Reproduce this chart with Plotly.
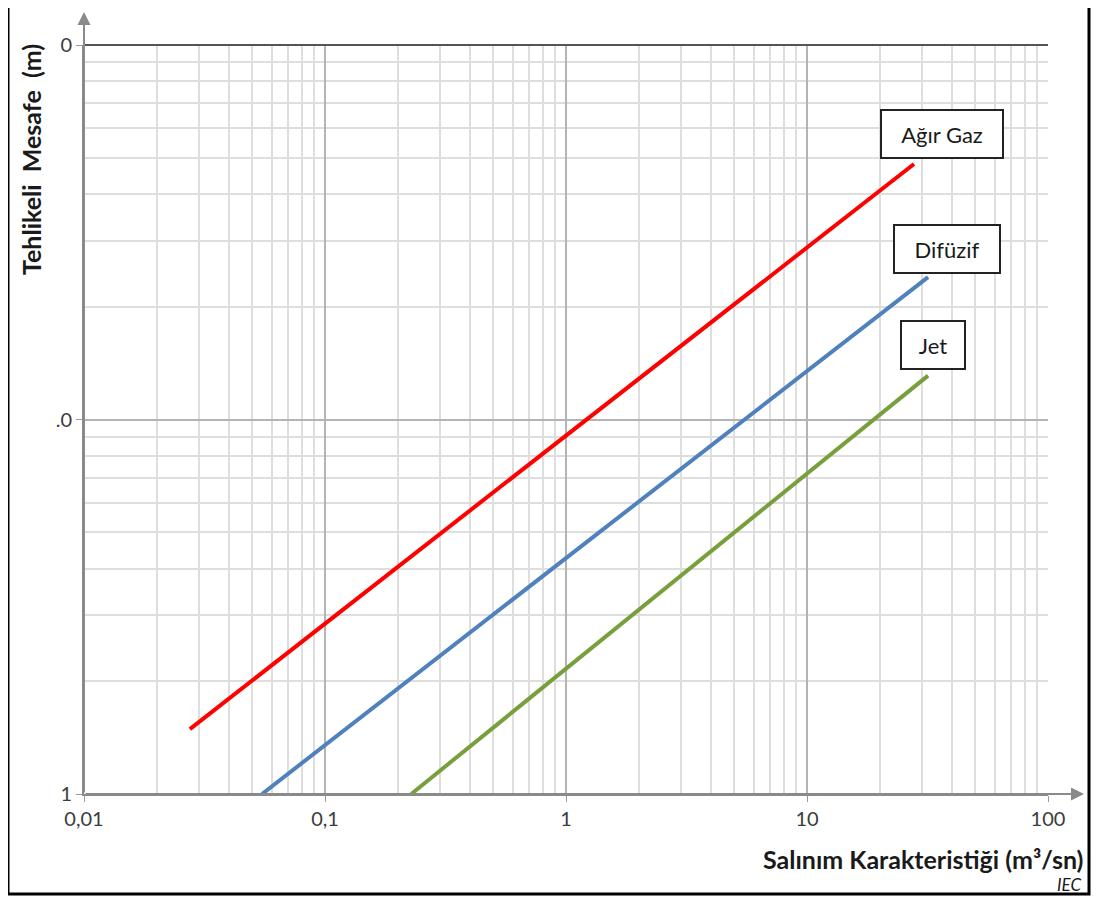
import plotly.graph_objects as go

# ---- data ----
series_names = ["Ağır Gaz", "Difüzif", "Jet"]
agir_gaz_x = [0.0275, 27.8]
agir_gaz_y = [1.49, 48.1]
difuzif_x = [0.0548, 31.8]
difuzif_y = [1.0, 24.0]
jet_x = [0.228, 31.8]
jet_y = [1.0, 13.1]

x_tick_vals = [0.01, 0.1, 1, 10, 100]
x_tick_text = ["0,01", "0,1", "1", "10", "100"]
y_tick_vals = [1, 10, 100]
y_tick_text = ["1", ".0", "0"]

colors = ["#ff0000", "#4f81bd", "#77a03c"]

# minor grid values
x_minor = [m * 10 ** e for e in range(-2, 2) for m in range(2, 10)]
y_minor = [m * 10 ** e for e in range(0, 2) for m in range(2, 10)]

# ---- layout geometry (window pixels; page body has an 8px offset) ----
OFF = 8
W, H = 1099 - 2 * OFF, 904 - 2 * OFF
L, R, T, B = 84, 1048, 45, 794
PW, PH = R - L, B - T


def px(x):
    return (x - L) / PW


def py(y):
    return (B - y) / PH


FONT = "Lato, Open Sans, sans-serif"

fig = go.Figure()
for xs, ys, c, n in zip([agir_gaz_x, difuzif_x, jet_x],
                        [agir_gaz_y, difuzif_y, jet_y], colors, series_names):
    fig.add_trace(go.Scatter(x=xs, y=ys, mode="lines", name=n,
                             line=dict(color=c, width=4), showlegend=False))

tickfont = dict(family=FONT, size=20, color="#3c3c3c")

fig.update_xaxes(type="log", range=[-2, 2], tickvals=x_tick_vals, ticktext=x_tick_text,
                 showgrid=True, gridcolor="#b4b4b4", gridwidth=2,
                 minor=dict(tickvals=x_minor, showgrid=True, gridcolor="#dedede", gridwidth=2),
                 ticks="outside", ticklen=6, tickcolor="#9a9a9a", tickwidth=1,
                 showline=True, linecolor="#8a8a8a", linewidth=2,
                 zeroline=False, tickfont=tickfont)
fig.update_yaxes(type="log", range=[0, 2], tickvals=y_tick_vals, ticktext=y_tick_text,
                 showgrid=True, gridcolor="#b4b4b4", gridwidth=2,
                 minor=dict(tickvals=y_minor, showgrid=True, gridcolor="#dedede", gridwidth=2),
                 ticks="outside", ticklen=6, tickcolor="#9a9a9a", tickwidth=1,
                 showline=True, linecolor="#8a8a8a", linewidth=2,
                 zeroline=False, tickfont=tickfont)

shapes = [
    dict(type="line", xref="paper", yref="paper", x0=0, x1=1, y0=1, y1=1,
         line=dict(color="#555555", width=2)),
    dict(type="rect", xref="paper", yref="paper",
         x0=px(8), x1=px(1089), y0=py(2), y1=py(894),
         line=dict(color="black", width=3)),
]

annotations = [
    dict(xref="paper", yref="paper", x=0, y=py(12), ax=0, ay=782, axref="pixel", ayref="pixel",
         showarrow=True, arrowhead=2, arrowsize=1.3, arrowwidth=2, arrowcolor="#8a8a8a", text=""),
    dict(xref="paper", yref="paper", x=px(1084), y=0, ax=-1000, ay=0,
         showarrow=True, arrowhead=2, arrowsize=1.3, arrowwidth=2, arrowcolor="#8a8a8a", text=""),
    dict(xref="paper", yref="paper", x=px(31), y=py(160), text="<b>Tehlikeli  Mesafe  (m)</b>",
         textangle=-90, showarrow=False, xanchor="center", yanchor="middle",
         font=dict(family=FONT, size=25, color="#1a1a1a")),
    dict(xref="paper", yref="paper", x=px(1085), y=py(859), text="<b>Salınım Karakteristiği (m³/sn)</b>",
         showarrow=False, xanchor="right", yanchor="middle",
         font=dict(family=FONT, size=25, color="#1a1a1a")),
    dict(xref="paper", yref="paper", x=px(1083), y=py(885), text="<i>IEC</i>",
         showarrow=False, xanchor="right", yanchor="middle",
         font=dict(family=FONT, size=17, color="#1a1a1a")),
]

boxes = [(942, 134.5, 118), (947, 248.5, 102), (933, 344.5, 60)]
for (cx, cy, w), name in zip(boxes, series_names):
    annotations.append(dict(xref="paper", yref="paper", x=px(cx), y=py(cy), text=name,
                            showarrow=False, xanchor="center", yanchor="middle",
                            width=w, height=44, bgcolor="white", bordercolor="#222222",
                            borderwidth=2, borderpad=1,
                            font=dict(family=FONT, size=22, color="#1a1a1a")))

fig.update_layout(width=W, height=H,
                  margin=dict(l=L - OFF, r=(W + OFF - R), t=T - OFF, b=(H + OFF - B)),
                  plot_bgcolor="white", paper_bgcolor="white",
                  shapes=shapes, annotations=annotations, showlegend=False)

fig.write_html("out.html")
